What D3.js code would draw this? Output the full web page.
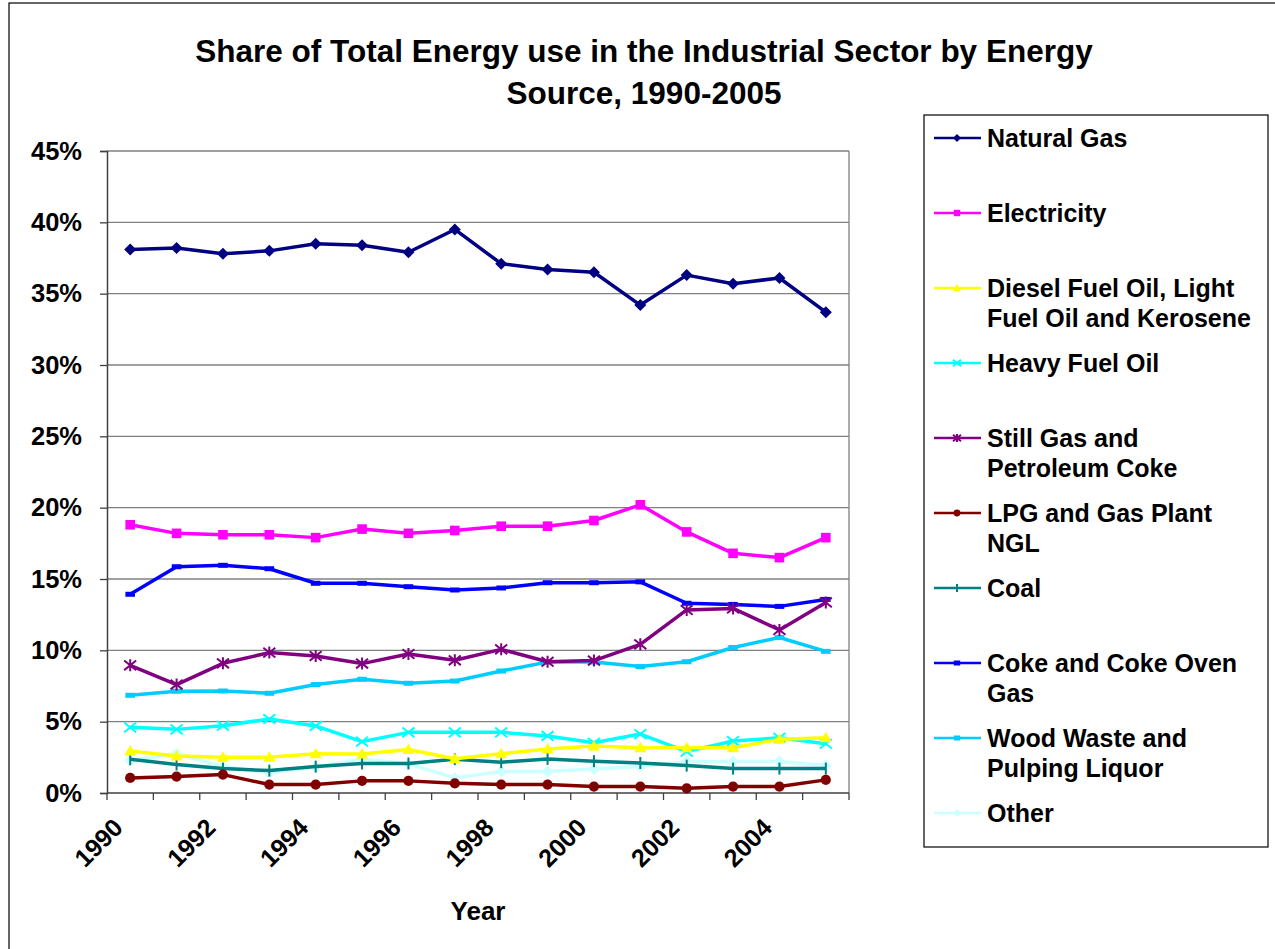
<!DOCTYPE html>
<html>
<head>
<meta charset="utf-8">
<script src="https://cdn.jsdelivr.net/npm/d3@7"></script>
<style>
  body { margin: 0; background: #fff; }
  text { font-family: "Liberation Sans", Arial, sans-serif; font-weight: bold; fill: #000; }
</style>
</head>
<body>
<div id="chart"></div>
<script>
const years = ["1990","1991","1992","1993","1994","1995","1996","1997","1998","1999","2000","2001","2002","2003","2004","2005"];
const yTicks = [0, 5, 10, 15, 20, 25, 30, 35, 40, 45];

const naturalGas  = [38.1, 38.2, 37.8, 38.0, 38.5, 38.4, 37.9, 39.5, 37.1, 36.7, 36.5, 34.2, 36.3, 35.7, 36.1, 33.7];
const electricity = [18.8, 18.2, 18.1, 18.1, 17.9, 18.5, 18.2, 18.4, 18.7, 18.7, 19.1, 20.2, 18.3, 16.8, 16.5, 17.9];
const dieselOil   = [2.95, 2.6, 2.5, 2.5, 2.75, 2.73, 3.05, 2.4, 2.75, 3.08, 3.3, 3.17, 3.17, 3.17, 3.76, 3.87];
const heavyOil    = [4.6, 4.46, 4.72, 5.19, 4.7, 3.6, 4.25, 4.25, 4.25, 4.0, 3.52, 4.13, 2.9, 3.64, 3.87, 3.45];
const stillGas    = [8.95, 7.6, 9.09, 9.84, 9.6, 9.07, 9.74, 9.3, 10.07, 9.2, 9.28, 10.42, 12.83, 12.94, 11.43, 13.36];
const lpgNgl      = [1.06, 1.15, 1.29, 0.59, 0.59, 0.85, 0.85, 0.68, 0.59, 0.59, 0.45, 0.45, 0.33, 0.45, 0.45, 0.92];
const coal        = [2.37, 2.0, 1.71, 1.57, 1.85, 2.07, 2.07, 2.37, 2.16, 2.39, 2.23, 2.1, 1.92, 1.71, 1.71, 1.71];
const cokeOvenGas = [13.93, 15.86, 15.96, 15.72, 14.7, 14.7, 14.46, 14.23, 14.37, 14.74, 14.74, 14.8, 13.3, 13.22, 13.08, 13.57];
const woodWaste   = [6.85, 7.13, 7.15, 6.99, 7.6, 7.97, 7.69, 7.85, 8.55, 9.18, 9.18, 8.86, 9.2, 10.2, 10.9, 9.93];
const other       = [2.28, 2.75, 1.85, 1.41, 1.8, 2.39, 2.04, 1.06, 1.5, 1.5, 1.69, 1.85, 2.2, 2.2, 2.2, 1.92];

const series = [
  { name: ["Natural Gas"], values: naturalGas, color: "#000080", marker: "diamond" },
  { name: ["Electricity"], values: electricity, color: "#FF00FF", marker: "square" },
  { name: ["Diesel Fuel Oil, Light", "Fuel Oil and Kerosene"], values: dieselOil, color: "#FFFF00", marker: "triangle" },
  { name: ["Heavy Fuel Oil"], values: heavyOil, color: "#00FFFF", marker: "x" },
  { name: ["Still Gas and", "Petroleum Coke"], values: stillGas, color: "#800080", marker: "star" },
  { name: ["LPG and Gas Plant", "NGL"], values: lpgNgl, color: "#800000", marker: "circle" },
  { name: ["Coal"], values: coal, color: "#008080", marker: "plus" },
  { name: ["Coke and Coke Oven", "Gas"], values: cokeOvenGas, color: "#0000FF", marker: "dash" },
  { name: ["Wood Waste and", "Pulping Liquor"], values: woodWaste, color: "#00CCFF", marker: "dash" },
  { name: ["Other"], values: other, color: "#CCFFFF", marker: "diamond" }
];

const W = 1275, H = 949;
const plot = { left: 107, right: 849, top: 151, bottom: 793 };

const svg = d3.select('#chart').append('svg')
  .attr('width', W).attr('height', H);

// outer chart border
svg.append('rect')
  .attr('x', 9).attr('y', 3).attr('width', W - 8).attr('height', H)
  .attr('fill', 'none').attr('stroke', '#000').attr('stroke-width', 1.2);

// title
svg.append('text').attr('x', 644).attr('y', 62).attr('text-anchor', 'middle')
  .style('font-size', '31.5px').text('Share of Total Energy use in the Industrial Sector by Energy');
svg.append('text').attr('x', 644).attr('y', 104).attr('text-anchor', 'middle')
  .style('font-size', '31.5px').text('Source, 1990-2005');

const x = d3.scaleBand().domain(years).range([plot.left, plot.right]);
const y = d3.scaleLinear().domain([0, 45]).range([plot.bottom, plot.top]);

// gridlines
svg.append('g').selectAll('line').data(yTicks.filter(d => d > 0)).enter().append('line')
  .attr('x1', plot.left).attr('x2', plot.right)
  .attr('y1', d => y(d)).attr('y2', d => y(d))
  .attr('stroke', '#808080').attr('stroke-width', 1.3);

// right border of plot area
svg.append('line').attr('x1', plot.right).attr('x2', plot.right)
  .attr('y1', plot.top).attr('y2', plot.bottom)
  .attr('stroke', '#808080').attr('stroke-width', 1.3);

// Y axis
const yAxis = svg.append('g')
  .attr('transform', `translate(${plot.left},0)`)
  .call(d3.axisLeft(y).tickValues(yTicks).tickFormat(d => d + '%').tickSize(7).tickPadding(18));
yAxis.select('.domain').attr('stroke', '#404040').attr('stroke-width', 1.5);
yAxis.selectAll('.tick line').attr('stroke', '#404040').attr('stroke-width', 1.3);
yAxis.selectAll('text').style('font-size', '25.5px').style('font-family', '"Liberation Sans", Arial, sans-serif')
  .style('font-weight', 'bold').attr('fill', '#000');

// X axis: ticks at category boundaries
const xAxis = svg.append('g').attr('transform', `translate(0,${plot.bottom})`);
xAxis.append('line').attr('x1', plot.left).attr('x2', plot.right)
  .attr('stroke', '#404040').attr('stroke-width', 1.5);
const bounds = years.map(d => x(d)).concat([plot.right]);
xAxis.selectAll('.xt').data(bounds).enter().append('line')
  .attr('x1', d => d).attr('x2', d => d).attr('y1', 0).attr('y2', 7)
  .attr('stroke', '#404040').attr('stroke-width', 1.3);
xAxis.selectAll('.xl').data(years.filter((d, i) => i % 2 === 0)).enter().append('text')
  .attr('text-anchor', 'end')
  .attr('transform', d => `translate(${x(d) + x.bandwidth() / 2 - 19},${23}) rotate(-45)`)
  .attr('dy', '0.75em')
  .style('font-size', '25px')
  .text(d => d);

// X axis title
svg.append('text').attr('x', 478).attr('y', 920).attr('text-anchor', 'middle')
  .style('font-size', '26px').text('Year');

function drawMarker(g, type, color, s) {
  if (type === 'diamond') {
    g.append('path').attr('d', `M0,${-s}L${s},0L0,${s}L${-s},0Z`).attr('fill', color);
  } else if (type === 'square') {
    g.append('rect').attr('x', -s * 0.8).attr('y', -s * 0.8).attr('width', s * 1.6).attr('height', s * 1.6).attr('fill', color);
  } else if (type === 'triangle') {
    g.append('path').attr('d', `M0,${-s}L${s},${s * 0.75}L${-s},${s * 0.75}Z`).attr('fill', color);
  } else if (type === 'x') {
    g.append('path').attr('d', `M${-s},${-s * 0.8}L${s},${s * 0.8}M${-s},${s * 0.8}L${s},${-s * 0.8}`)
      .attr('stroke', color).attr('stroke-width', 2);
  } else if (type === 'star') {
    g.append('path').attr('d', `M${-s},${-s * 0.8}L${s},${s * 0.8}M${-s},${s * 0.8}L${s},${-s * 0.8}M0,${-s}L0,${s}`)
      .attr('stroke', color).attr('stroke-width', 2);
  } else if (type === 'circle') {
    g.append('circle').attr('r', s * 0.85).attr('fill', color);
  } else if (type === 'plus') {
    g.append('path').attr('d', `M0,${-s}L0,${s}`).attr('stroke', color).attr('stroke-width', 2);
  } else if (type === 'dash') {
    g.append('rect').attr('x', -s * 0.8).attr('y', -2.5).attr('width', s * 1.6).attr('height', 5).attr('fill', color);
  }
}

// lines (draw in reverse so first series is on top)
const line = d3.line().x((d, i) => x(years[i]) + x.bandwidth() / 2).y(d => y(d));
const lineG = svg.append('g');
series.slice().reverse().forEach(s => {
  lineG.append('path').datum(s.values)
    .attr('d', line).attr('fill', 'none')
    .attr('stroke', s.color).attr('stroke-width', 3.5).attr('stroke-linejoin', 'round');
  s.values.forEach((v, i) => {
    const g = lineG.append('g').attr('transform', `translate(${x(years[i]) + x.bandwidth() / 2},${y(v)})`);
    drawMarker(g, s.marker, s.color, 6);
  });
});

// legend
const legend = svg.append('g');
legend.append('rect').attr('x', 924).attr('y', 115).attr('width', 344).attr('height', 732)
  .attr('fill', '#fff').attr('stroke', '#000').attr('stroke-width', 1.2);
const legendY = d3.scaleLinear().domain([0, series.length - 1]).range([138, 813]);
series.forEach((s, i) => {
  const cy = legendY(i);
  legend.append('line').attr('x1', 934).attr('x2', 981).attr('y1', cy).attr('y2', cy)
    .attr('stroke', s.color).attr('stroke-width', 2.5);
  const g = legend.append('g').attr('transform', `translate(957,${cy})`);
  drawMarker(g, s.marker, s.color, 4);
  s.name.forEach((t, j) => {
    legend.append('text').attr('x', 987).attr('y', cy + 9 + j * 30)
      .style('font-size', '25px').text(t);
  });
});
</script>
</body>
</html>
